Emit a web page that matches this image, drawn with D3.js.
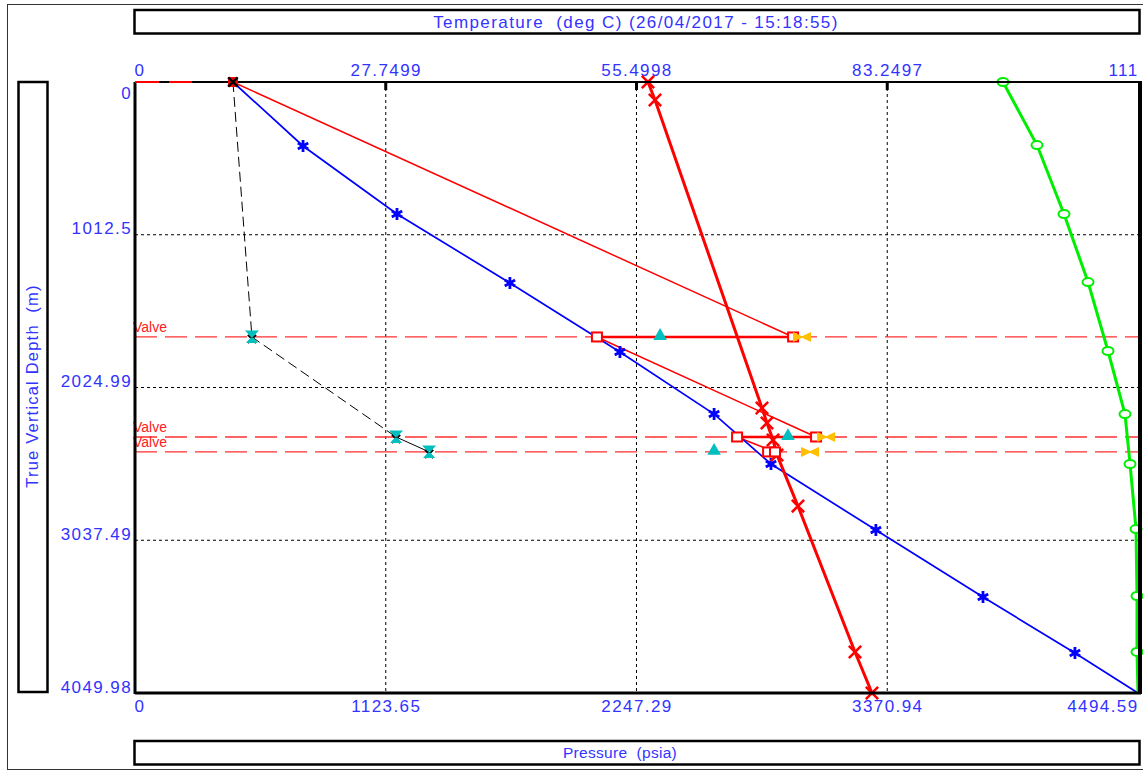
<!DOCTYPE html>
<html>
<head>
<meta charset="utf-8">
<script src="https://cdn.jsdelivr.net/npm/d3@7"></script>
<style>
  html, body { margin: 0; padding: 0; background: #fff; }
  svg { display: block; font-family: "Liberation Sans", Arial, sans-serif; }
  text { white-space: pre; }
</style>
</head>
<body>
<svg id="chart" width="1143" height="773"></svg>
<script>
// Axis ticks
const tempTicks = [0, 27.7499, 55.4998, 83.2497, 111];
const tempTickLabels = ["0", "27.7499", "55.4998", "83.2497", "111"];
const presTicks = [0, 1123.65, 2247.29, 3370.94, 4494.59];
const presTickLabels = ["0", "1123.65", "2247.29", "3370.94", "4494.59"];
const depthTicks = [0, 1012.5, 2024.99, 3037.49, 4049.98];
const depthTickLabels = ["0", "1012.5", "2024.99", "3037.49", "4049.98"];

// Tubing pressure profile (psia vs m)
const tubingDepth    = [0, 424, 875, 1332, 1790, 2201, 2532, 2970, 3414, 3785, 4050];
const tubingPressure = [439, 753, 1174, 1680, 2173, 2595, 2850, 3320, 3800, 4212, 4494.59];

// Fluid temperature profile (deg C)
const tempDepth = [0, 119, 2161, 2260, 2373, 2472, 2811, 3778, 4050];
const tempValue = [56.77, 57.55, 69.39, 69.94, 70.61, 71.05, 73.37, 79.68, 81.56];

// Geothermal temperature profile (deg C)
const geoDepth = [0, 418, 875, 1326, 1783, 2201, 2532, 2963, 3407, 3778, 4050];
const geoValue = [96.06, 99.82, 102.81, 105.47, 107.68, 109.56, 110.12, 110.78, 110.89, 110.89, 111];

// Valve data
const valveDepth    = [1690, 2353, 2452];
const valveTubingP  = [2070, 2698, 2837];
const valveCasingP  = [2949, 3052, 2868];
const valveOpenP    = [2353, 2926, 2595];
const valveCloseP   = [2989, 3097, 3025];
const valveLabels   = ["Valve", "Valve", "Valve"];

// Surface casing pressure
const surfaceCasingP = 439;

// Unloading line (psia vs m)
const unloadDepth    = [0, 1690, 2353, 2452];
const unloadPressure = [439, 524, 1170, 1318];

const M = { left: 135, right: 1138, top: 82, bottom: 693 };
const blue = "#3333ff";
const FS = 17, LS = 1.4;

const svg = d3.select("#chart");

const xT = d3.scaleLinear().domain([0, 111]).range([M.left, M.right]);
const xP = d3.scaleLinear().domain([0, 4494.59]).range([M.left, M.right]);
const y = d3.scaleLinear().domain([0, 4049.98]).range([M.top, M.bottom]);

// Outer frame and title boxes
svg.append("rect").attr("x", 7.5).attr("y", 4.5).attr("width", 1140).attr("height", 765)
  .attr("fill", "none").attr("stroke", "#333").attr("stroke-width", 1);

function box(x, yy, w, h) {
  svg.append("rect").attr("x", x).attr("y", yy).attr("width", w).attr("height", h)
    .attr("fill", "#fff").attr("stroke", "#000").attr("stroke-width", 2.5);
}
box(134.5, 10, 1005, 23.5);
box(134.5, 741, 1005, 23.5);
box(18.5, 82, 29, 610);

function title(sel, fs, ls) {
  return sel.attr("text-anchor", "middle").attr("fill", blue).attr("font-size", fs).attr("letter-spacing", ls);
}
title(svg.append("text").attr("x", 636).attr("y", 28), FS, LS).text("Temperature  (deg C) (26/04/2017 - 15:18:55)");
title(svg.append("text").attr("x", 620).attr("y", 758), 15.5, 0.3).text("Pressure  (psia)");
title(svg.append("text").attr("transform", "translate(38,386) rotate(-90)"), 16.5, 1.2).text("True Vertical Depth  (m)");

// Grid lines
const g = svg.append("g");
presTicks.slice(1, -1).forEach(v => {
  g.append("line").attr("x1", xP(v)).attr("x2", xP(v)).attr("y1", M.top).attr("y2", M.bottom)
    .attr("stroke", "#000").attr("stroke-dasharray", "3,3").attr("stroke-width", 1);
});
depthTicks.slice(1, -1).forEach(v => {
  g.append("line").attr("x1", M.left).attr("x2", M.right).attr("y1", y(v)).attr("y2", y(v))
    .attr("stroke", "#000").attr("stroke-dasharray", "3,3").attr("stroke-width", 1);
});

// Axes (tick labels drawn via d3 axes)
const topAxis = d3.axisTop(xT).tickValues(tempTicks).tickFormat((d, i) => tempTickLabels[i]).tickSize(0).tickPadding(6);
const ta = svg.append("g").attr("transform", `translate(0,${M.top})`).call(topAxis);
const botAxis = d3.axisBottom(xP).tickValues(presTicks).tickFormat((d, i) => presTickLabels[i]).tickSize(0).tickPadding(7);
const ba = svg.append("g").attr("transform", `translate(0,${M.bottom})`).call(botAxis);
const leftAxis = d3.axisLeft(y).tickValues(depthTicks).tickFormat((d, i) => depthTickLabels[i]).tickSize(0).tickPadding(3);
const la = svg.append("g").attr("transform", `translate(${M.left},0)`).call(leftAxis);
[ta, ba, la].forEach(a => {
  a.select(".domain").remove();
  a.selectAll("text").attr("fill", blue).attr("font-size", FS).attr("letter-spacing", LS)
    .attr("font-family", "Liberation Sans, Arial, sans-serif");
});
ta.selectAll("text").attr("text-anchor", (d, i) => i === 0 ? "start" : (i === tempTicks.length - 1 ? "end" : "middle"))
  .attr("dx", (d, i) => i === 0 ? -1 : 0);
ba.selectAll("text").attr("text-anchor", (d, i) => i === 0 ? "start" : (i === presTicks.length - 1 ? "end" : "middle"))
  .attr("dx", (d, i) => i === 0 ? -1 : 0);
la.selectAll("text").attr("dy", (d, i) => i === 0 ? "0.95em" : "-0.05em");

// Valve depth lines and labels
valveDepth.forEach((d, i) => {
  svg.append("line").attr("x1", M.left).attr("x2", M.right).attr("y1", y(d)).attr("y2", y(d))
    .attr("stroke", "#ff3030").attr("stroke-width", 1.3).attr("stroke-dasharray", "22,8");
  svg.append("text").attr("x", 133).attr("y", y(d) - 5).attr("fill", "#ff2020")
    .attr("font-size", 14).text(valveLabels[i]);
});

const line = d3.line();

// Unloading line (black dashed)
svg.append("path")
  .attr("d", line(unloadDepth.slice(0, 3).map((d, i) => [xP(unloadPressure[i]), y(d)])))
  .attr("fill", "none").attr("stroke", "#000").attr("stroke-width", 1).attr("stroke-dasharray", "10,5");
svg.append("path")
  .attr("d", line(unloadDepth.slice(2).map((d, i) => [xP(unloadPressure[i + 2]), y(d)])))
  .attr("fill", "none").attr("stroke", "#000").attr("stroke-width", 1);

// Casing gradient lines between valves
const casingLinks = [[surfaceCasingP, 0, valveCasingP[0], valveDepth[0]]];
for (let i = 0; i < valveDepth.length - 1; i++) {
  casingLinks.push([valveTubingP[i], valveDepth[i], valveCasingP[i + 1], valveDepth[i + 1]]);
}
casingLinks.forEach(c => {
  svg.append("line").attr("x1", xP(c[0])).attr("y1", y(c[1])).attr("x2", xP(c[2])).attr("y2", y(c[3]))
    .attr("stroke", "#ff0000").attr("stroke-width", 1.5);
});
valveDepth.forEach((d, i) => {
  svg.append("line").attr("x1", xP(valveTubingP[i])).attr("x2", xP(valveCasingP[i]))
    .attr("y1", y(d)).attr("y2", y(d)).attr("stroke", "#ff0000").attr("stroke-width", 2.5);
});

// Tubing pressure (blue)
const tubPts = tubingDepth.map((d, i) => [xP(tubingPressure[i]), y(d)]);
svg.append("path").attr("d", line(tubPts)).attr("fill", "none").attr("stroke", "#0000ff").attr("stroke-width", 1.7);

// Fluid temperature (red, thick)
const tPts = tempDepth.map((d, i) => [xT(tempValue[i]), y(d)]);
svg.append("path").attr("d", line(tPts)).attr("fill", "none").attr("stroke", "#ff0000").attr("stroke-width", 3);

// Geothermal (green)
const gPts = geoDepth.map((d, i) => [xT(geoValue[i]), y(d)]);
svg.append("path").attr("d", line(gPts)).attr("fill", "none").attr("stroke", "#00ee00").attr("stroke-width", 3);

// Markers
const star = d3.symbol().type(d3.symbolAsterisk).size(100);
tubPts.slice(1, -1).forEach(p => {
  svg.append("path").attr("d", star()).attr("transform", `translate(${p[0]},${p[1]})`)
    .attr("fill", "none").attr("stroke", "#0000ff").attr("stroke-width", 2.8);
});
const xsym = d3.symbol().type(d3.symbolX).size(100);
tPts.forEach(p => {
  svg.append("path").attr("d", xsym()).attr("transform", `translate(${p[0]},${p[1]})`)
    .attr("fill", "none").attr("stroke", "#ff0000").attr("stroke-width", 2.6);
});
gPts.slice(0, -1).forEach(p => {
  svg.append("ellipse").attr("cx", p[0]).attr("cy", p[1]).attr("rx", 5.5).attr("ry", 4)
    .attr("fill", "#fff").attr("stroke", "#00ee00").attr("stroke-width", 2);
});

// Unloading markers: black cross with cyan hourglass
unloadDepth.slice(1).forEach((d, i) => {
  const px = xP(unloadPressure[i + 1]), py = y(d);
  svg.append("path").attr("d", d3.symbol().type(d3.symbolX).size(45)()).attr("transform", `translate(${px},${py + 2})`)
    .attr("stroke", "#000").attr("stroke-width", 2);
  svg.append("path").attr("d", "M-7,-6.5 L7,-6.5 L0,1 Z M-6,6 L6,6 L0,-1 Z").attr("transform", `translate(${px},${py})`)
    .attr("fill", "#00bfbf");
});

// Valve markers
valveDepth.forEach((d, i) => {
  const py = y(d);
  [valveTubingP[i], valveCasingP[i]].forEach(p => {
    svg.append("rect").attr("x", xP(p) - 5).attr("y", py - 4.5).attr("width", 10).attr("height", 9)
      .attr("fill", "#fff").attr("stroke", "#ff0000").attr("stroke-width", 2);
  });
  svg.append("path").attr("d", d3.symbol().type(d3.symbolTriangle).size(80)())
    .attr("transform", `translate(${xP(valveOpenP[i])},${py - 1})`).attr("fill", "#00bfbf");
  svg.append("path").attr("d", "M-9,-5 L0,-0.8 L0,0.8 L-9,5 Z M9,-5 L0,-0.8 L0,0.8 L9,5 Z")
    .attr("transform", `translate(${xP(valveCloseP[i])},${py})`).attr("fill", "#ffc000");
});

// Plot frame
svg.append("line").attr("x1", M.left).attr("x2", M.right + 3).attr("y1", M.top).attr("y2", M.top).attr("stroke", "#000").attr("stroke-width", 2);
svg.append("line").attr("x1", M.left).attr("x2", M.right + 3).attr("y1", M.bottom).attr("y2", M.bottom).attr("stroke", "#000").attr("stroke-width", 3);
svg.append("line").attr("x1", M.left).attr("x2", M.left).attr("y1", M.top).attr("y2", M.bottom + 1).attr("stroke", "#000").attr("stroke-width", 3);
svg.append("line").attr("x1", M.right + 2).attr("x2", M.right + 2).attr("y1", M.top - 1).attr("y2", M.bottom + 1).attr("stroke", "#000").attr("stroke-width", 4);
// Small top tick marks
presTicks.slice(1, -1).forEach(v => {
  svg.append("line").attr("x1", xP(v)).attr("x2", xP(v)).attr("y1", M.top).attr("y2", M.top + 8)
    .attr("stroke", "#000").attr("stroke-width", 3);
});
// Surface marker
svg.append("line").attr("x1", xP(0)).attr("x2", xP(255)).attr("y1", y(0)).attr("y2", y(0))
  .attr("stroke", "#ff0000").attr("stroke-width", 2).attr("stroke-dasharray", "24,10");
svg.append("rect").attr("x", xP(surfaceCasingP) - 5).attr("y", y(0) - 5).attr("width", 10).attr("height", 10)
  .attr("fill", "#ff0000");
svg.append("path").attr("d", d3.symbol().type(d3.symbolX).size(60)()).attr("transform", `translate(${xP(surfaceCasingP)},${y(0)})`)
  .attr("stroke", "#000").attr("stroke-width", 2.5);
</script>
</body>
</html>
